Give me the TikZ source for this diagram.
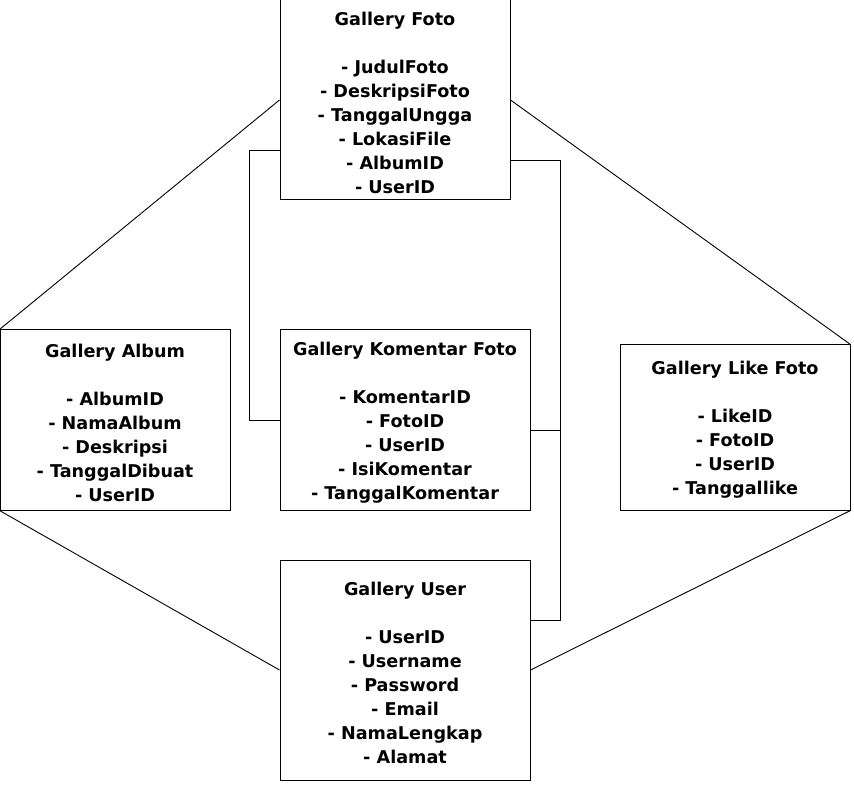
\documentclass[tikz,border=0pt]{standalone}
\usepackage{fontspec}
\setmainfont{DejaVu Sans}
\usetikzlibrary{calc}
\newcommand{\toppad}{\rule{0pt}{18.5pt}}
\begin{document}
\begin{tikzpicture}[x=1pt,y=-1pt,
  box/.style={draw=black, line width=1pt, fill=white, align=center, inner sep=0pt,
    font=\bfseries\fontsize{17.6}{24}\selectfont},
  conn/.style={draw=black, line width=0.9pt}]
\fill[white] (0,0) rectangle (854,791);
\useasboundingbox (0,0) rectangle (854,791);

\node[box, minimum width=230pt, minimum height=200pt] (foto) at (395,100)
  {\toppad Gallery Foto\\[24pt]- JudulFoto\\- DeskripsiFoto\\- TanggalUngga\\- LokasiFile\\- AlbumID\\- UserID};
\node[box, minimum width=230pt, minimum height=180pt] (album) at (115,420)
  {\toppad Gallery Album\\[24pt]- AlbumID\\- NamaAlbum\\- Deskripsi\\- TanggalDibuat\\- UserID};
\node[box, minimum width=250pt, minimum height=180pt] (kom) at (405,420)
  {\toppad Gallery Komentar Foto\\[24pt]- KomentarID\\- FotoID\\- UserID\\- IsiKomentar\\- TanggalKomentar};
\node[box, minimum width=230pt, minimum height=165pt] (like) at (735,427.5)
  {\toppad Gallery Like Foto\\[24pt]- LikeID\\- FotoID\\- UserID\\- Tanggallike};
\node[box, minimum width=250pt, minimum height=220pt] (user) at (405,670)
  {\toppad Gallery User\\[24pt]- UserID\\- Username\\- Password\\- Email\\- NamaLengkap\\- Alamat};

\draw[conn] (foto.west) -- (album.north west);
\draw[conn] (foto.east) -- (like.north east);
\draw[conn] (album.south west) -- (user.west);
\draw[conn] (like.south east) -- (user.east);
\draw[conn] ($(foto.west)!0.5!(foto.south west)$) -- ++(-30,0) |- (kom.west);
\draw[conn] ($(foto.east)!0.6!(foto.south east)$) -- ++(50,0) |- ($(user.east)+(0,-50)$);
\draw[conn] ($(kom.east)+(0,10)$) -- ++(30,0);
\end{tikzpicture}
\end{document}
